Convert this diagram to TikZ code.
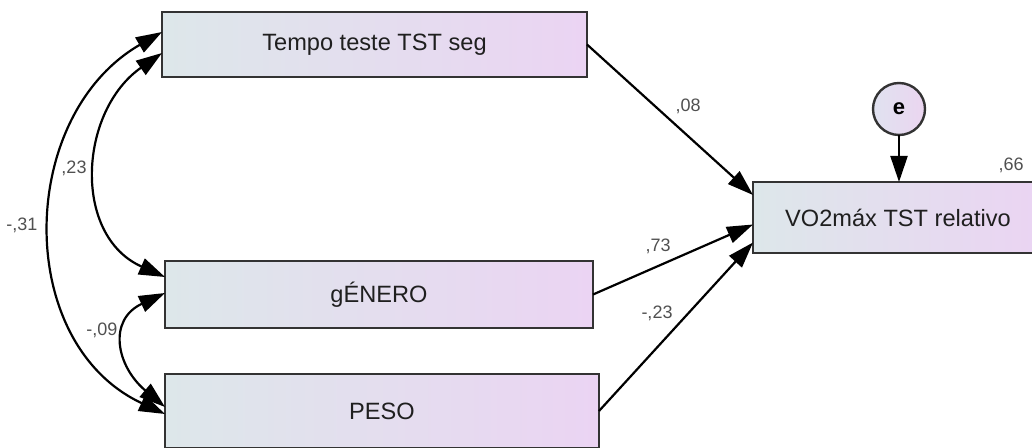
\documentclass[tikz,border=0pt]{standalone}
\usepackage{fontspec}
\setmainfont{Liberation Sans}
\usetikzlibrary{arrows.meta,calc}
\definecolor{boxleft}{HTML}{DDE7EA}
\definecolor{boxright}{HTML}{EBD4F3}
\definecolor{errleft}{HTML}{E0E2F0}
\definecolor{errright}{HTML}{EBD5F0}
\definecolor{edge}{HTML}{333333}
\definecolor{coef}{HTML}{505050}
\tikzset{
  var/.style={draw=edge, line width=1.2pt, left color=boxleft, right color=boxright,
    inner sep=0pt, outer sep=0pt, font=\fontsize{11.8}{14}\selectfont, text=black!88},
  err/.style={circle, draw=edge, line width=1.2pt, left color=errleft, right color=errright,
    minimum size=26pt, inner sep=0pt, outer sep=0pt, font=\fontsize{11}{13}\selectfont\bfseries},
  reg/.style={line width=1.1pt, -{Triangle[length=13pt,width=8.5pt]}},
  cov/.style={line width=1.1pt, {Triangle[length=13pt,width=8.5pt]}-{Triangle[length=13pt,width=8.5pt]}},
  coeflbl/.style={font=\fontsize{9}{11}\selectfont, text=coef, inner sep=0pt},
}
\begin{document}
\begin{tikzpicture}[x=0.5pt,y=0.5pt]
\useasboundingbox (0,0) rectangle (1032,-448);
\clip (0,0) rectangle (1032,-448);

% observed variables
\node[var, minimum width=212.5pt, minimum height=32.5pt] (t1) at (374.5,-44.5) {Tempo teste TST seg};
\node[var, minimum width=214pt, minimum height=33.5pt] (g) at (379,-294.5) {gÉNERO};
\node[var, minimum width=217pt, minimum height=37pt] (p) at (382,-411) {PESO};
\node[var, minimum width=145pt, minimum height=35.5pt] (v) at (898,-217.5) {VO2máx TST relativo};

% error term
\node[err] (e) at (899,-109) {e};

% regression paths
\draw[reg] (t1.east) -- ($(v.west)+(0,22.5)$);
\draw[reg] (g.east) -- ($(v.west)+(0,-7)$);
\draw[reg] (p.east) -- ($(v.west)+(0,-25)$);
\draw[reg] (e.south) -- (e.south |- v.north);

% covariances
\draw[cov] ($(t1.west)+(0,12.5)$) to[out=210,in=155,looseness=1.12] ($(p.west)+(0,-3)$);
\draw[cov] ($(t1.west)+(0,-8.5)$) to[out=215,in=156,looseness=1.16] ($(g.west)+(0,17.5)$);
\draw[cov] ($(g.west)+(0,1.5)$) to[out=205,in=140,looseness=1.43] ($(p.west)+(0,4)$);

% estimates
\node[coeflbl] (c08) at (688,-106) {,08};
\node[coeflbl] (c73) at (658,-246) {,73};
\node[coeflbl] (c23b) at (657,-313) {-,23};
\node[coeflbl] (c66) at (1011,-165) {,66};
\node[coeflbl] (c23) at (74,-168) {,23};
\node[coeflbl] (c31) at (22,-225) {-,31};
\node[coeflbl] (c09) at (102,-330) {-,09};
\end{tikzpicture}
\end{document}
